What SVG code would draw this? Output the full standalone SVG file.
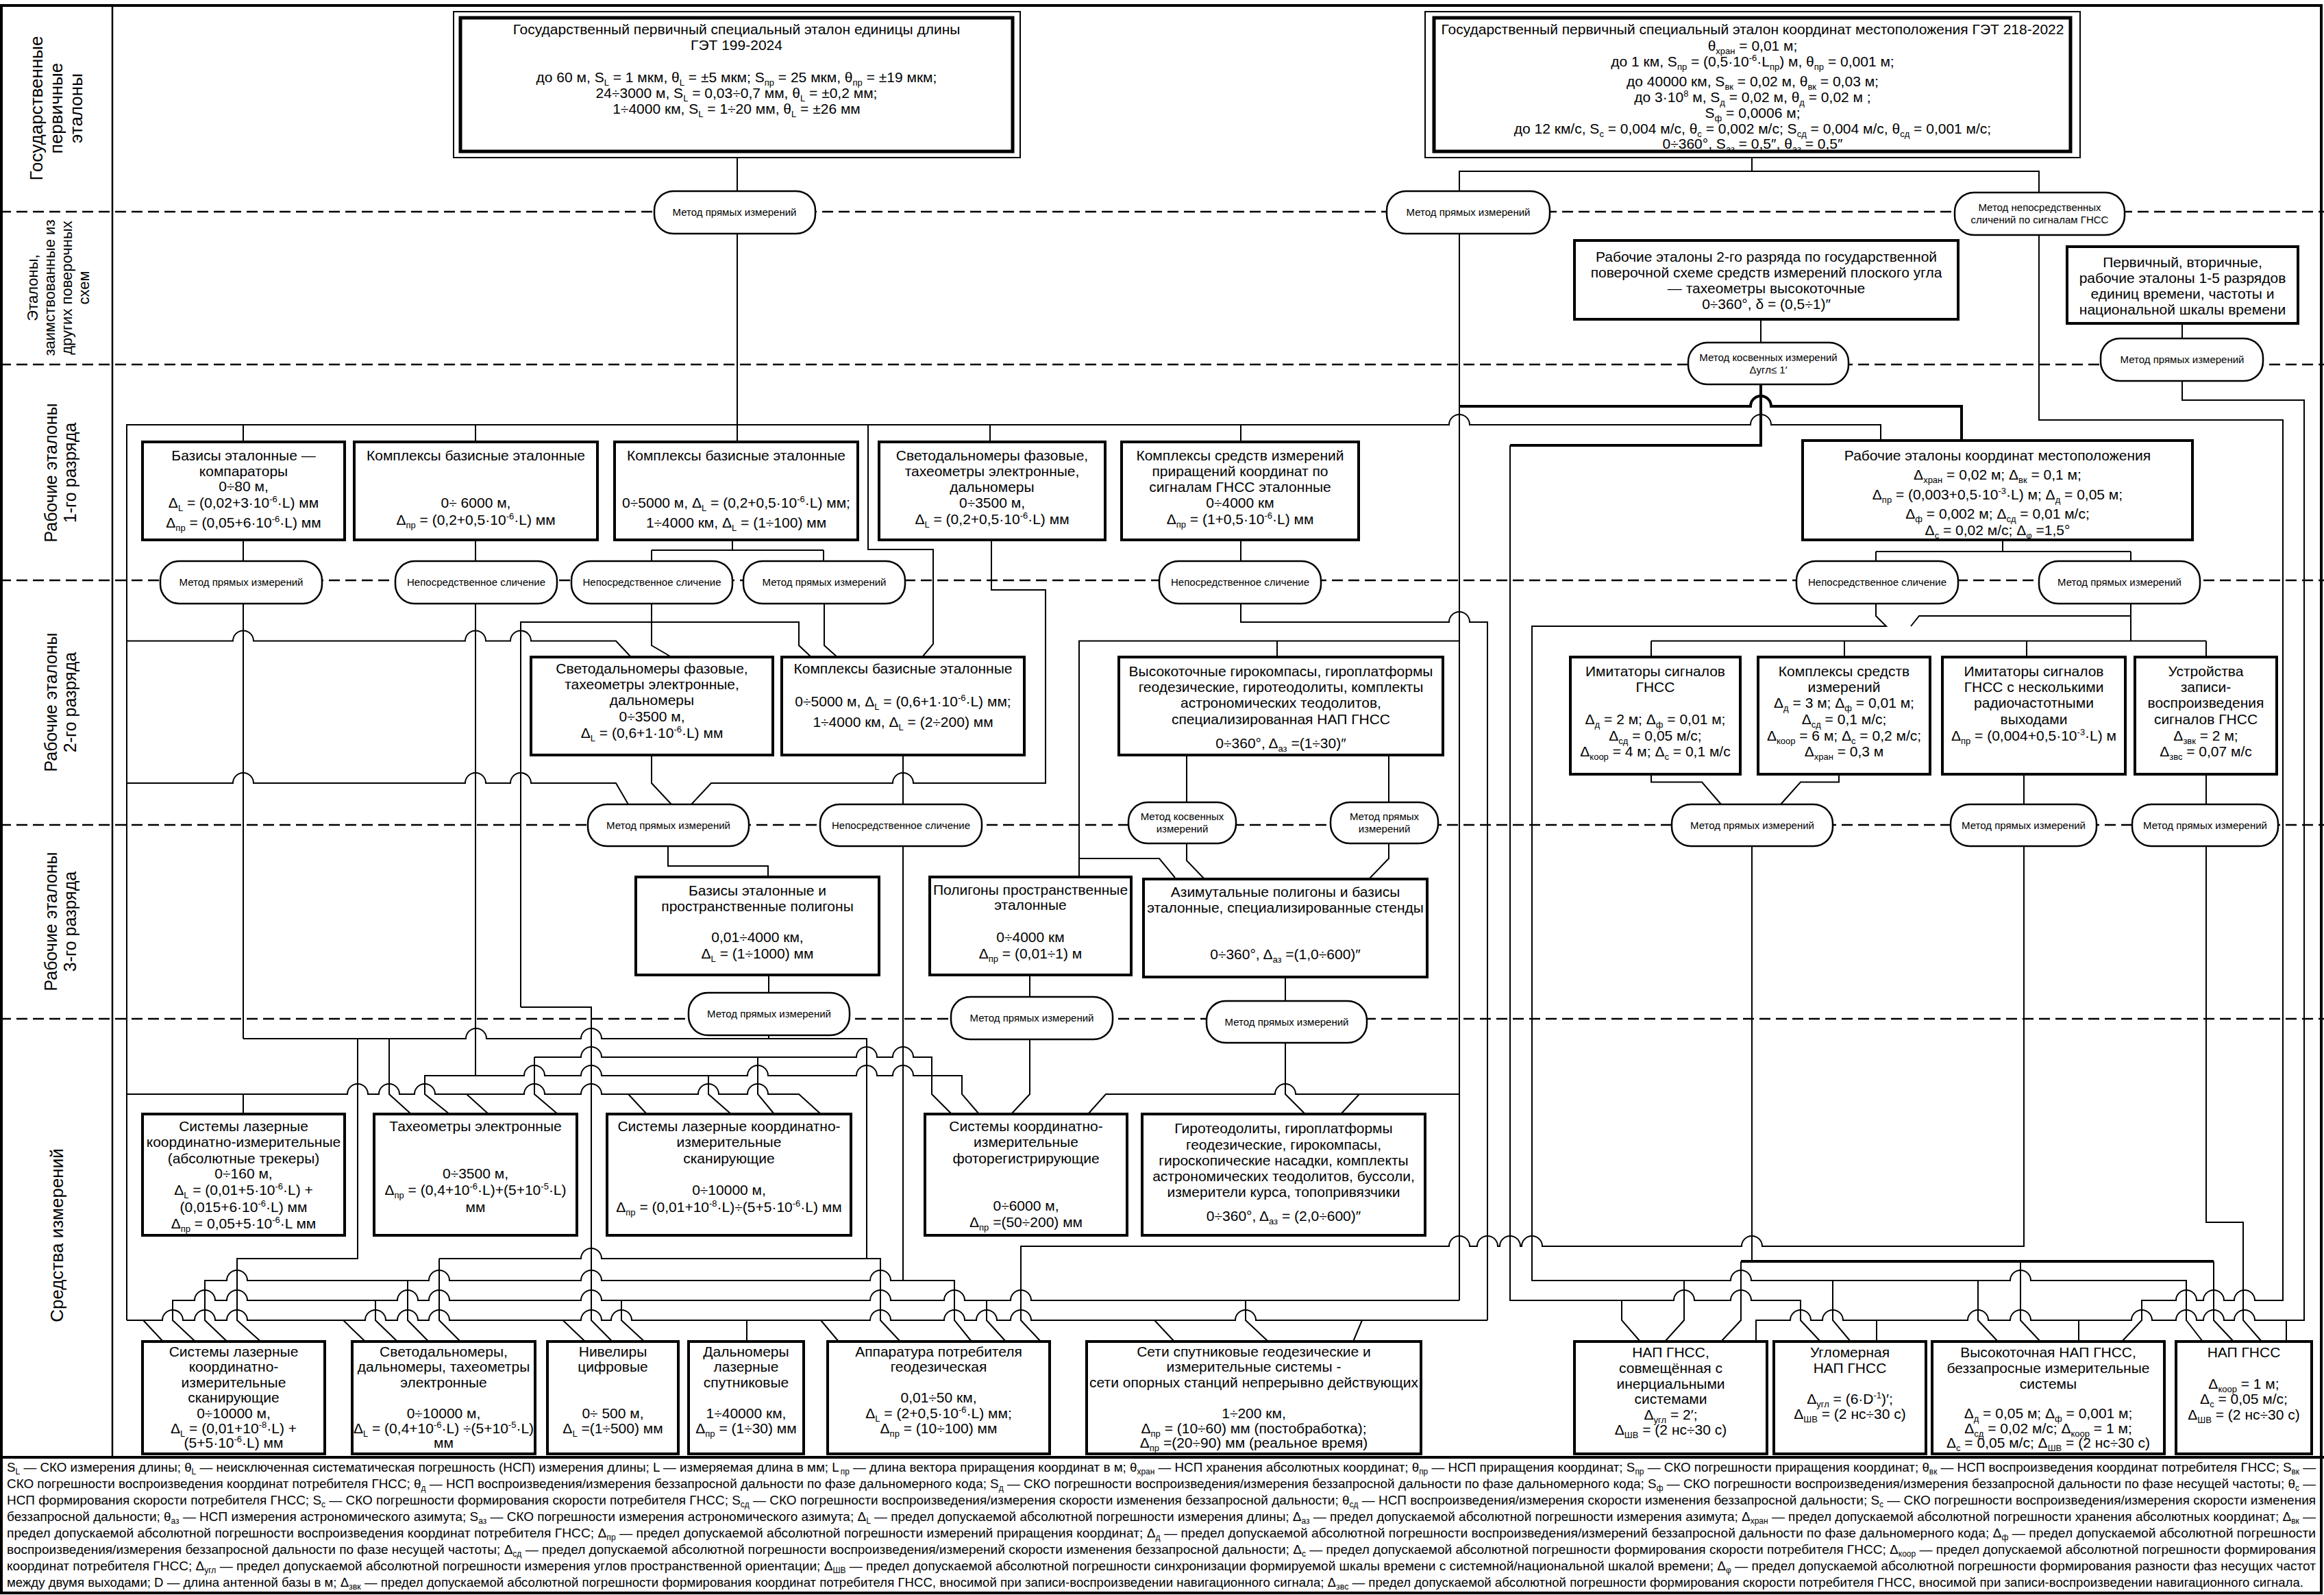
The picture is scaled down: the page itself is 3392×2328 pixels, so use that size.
<svg xmlns="http://www.w3.org/2000/svg" width="3392" height="2328" viewBox="0 0 3392 2328">
<style>
.bx{fill:#fff;stroke:#000;stroke-width:4}
.ov{fill:#fff;stroke:#000;stroke-width:2.5}
.c{fill:none;stroke:#000;stroke-width:2}
.ct{fill:none;stroke:#000;stroke-width:4}
.dash{fill:none;stroke:#000;stroke-width:2.5;stroke-dasharray:16 8}
text{font-family:"Liberation Sans",Arial,sans-serif;fill:#000}
.t{font-size:21px;text-anchor:middle}
.o{font-size:15px;text-anchor:middle}
.r{text-anchor:middle;dominant-baseline:central}
.f{font-size:19px}
.s{font-size:13px}
.fs{font-size:12px}
</style>
<rect width="3392" height="2328" fill="#fff"/>
<g id="frame">
<rect x="2" y="8" width="3386" height="2317" fill="none" stroke="#000" stroke-width="4"/>
<path d="M164,8V2127" stroke="#000" stroke-width="2.5"/>
<path d="M0,2127H3392" stroke="#000" stroke-width="4"/>
<path class="dash" d="M0,309H3392M0,532H3392M0,847H3392M0,1204H3392M0,1487H3392"/>
</g>
<g id="row-labels">
<text class="r" font-size="26" transform="translate(82,158) rotate(-90)"><tspan x="0" y="-29">Государственные</tspan><tspan x="0" y="0">первичные</tspan><tspan x="0" y="29">эталоны</tspan></text>
<text class="r" font-size="22" transform="translate(84,420) rotate(-90)"><tspan x="0" y="-37.5">Эталоны,</tspan><tspan x="0" y="-12.5">заимствованные из</tspan><tspan x="0" y="12.5">других поверочных</tspan><tspan x="0" y="37.5">схем</tspan></text>
<text class="r" font-size="25" transform="translate(88,690) rotate(-90)"><tspan x="0" y="-14">Рабочие эталоны</tspan><tspan x="0" y="14">1-го разряда</tspan></text>
<text class="r" font-size="25" transform="translate(88,1025) rotate(-90)"><tspan x="0" y="-14">Рабочие эталоны</tspan><tspan x="0" y="14">2-го  разряда</tspan></text>
<text class="r" font-size="25" transform="translate(88,1345) rotate(-90)"><tspan x="0" y="-14">Рабочие эталоны</tspan><tspan x="0" y="14">3-го  разряда</tspan></text>
<text class="r" font-size="26" transform="translate(83,1803) rotate(-90)">Средства измерений</text>
</g>
<g id="connectors">
<path class="c" d="M1076,230V279M1076,341V645"/>
<path class="c" d="M185,1927V620H2115a15,15 0 0 1 30,0H2555a15,15 0 0 1 30,0H2745V643"/>
<path class="c" d="M355,620V645M694,620V645M1445,620V645M1811,620V645"/>
<path class="c" d="M1267,620V802H1362V940L1346,959"/>
<path class="c" d="M2130,279V250H2976V281M2557,230V250"/>
<path class="c" d="M2130,341V1898"/>
<path class="ct" d="M2130,593H2555a15,15 0 0 1 30,0H2863V643"/>
<path class="c" d="M2570,466V500"/>
<path class="ct" d="M2570,561V650H2204"/>
<path class="c" d="M2204,650V1898H2443a15,15 0 0 1 30,0H2526a15,15 0 0 1 30,0H2628V1927L2657,1958M2367,1898V1927L2394,1958"/>
<path class="c" d="M3185,472V494"/>
<path class="c" d="M3185,556V584H3363V1927H3291a15,15 0 0 0 -30,0H3246a15,15 0 0 0 -30,0H3206a15,15 0 0 0 -30,0H3141a15,15 0 0 0 -30,0H2964a15,15 0 0 0 -30,0H2902a15,15 0 0 0 -30,0H2690a15,15 0 0 0 -30,0H2643a15,15 0 0 0 -30,0H2563V1958M2739,1927V1958M3034,1927V1958M3337,1927V1958"/>
<path class="c" d="M2976,343V613H3332V1898H3291a15,15 0 0 0 -30,0H3246a15,15 0 0 0 -30,0H3206a15,15 0 0 0 -30,0H3126V1927L3097,1958"/>
<path class="c" d="M2923,788V805M2738,805H3110M2738,805V819M3110,805V819"/>
<path class="c" d="M2738,881V899L2753,914H2236V1869H2526a15,15 0 0 1 30,0H2934a15,15 0 0 1 30,0H3191V1927L3215,1958M2458,1869V1927L2430,1958M2675,1869V1927L2701,1958M2887,1869V1927L2916,1958"/>
<path class="c" d="M3110,881V935.5M2410,935.5H3220M2410,935.5V959M2692,935.5V959M2958,935.5V959M3220,935.5V959M3110,899H2801L2789,914"/>
<path class="c" d="M2410,1130V1141.5H2484L2512,1174M2684,1130V1141.5H2628L2599,1174"/>
<path class="c" d="M2557,1235V1841M2512,1958L2541,1927V1841M3231,1841V1927L3260,1958M2949,1841V1927L2978,1958"/>
<path class="ct" d="M2541,1841H3231"/>
<path class="c" d="M2954,1130V1174M2954,1235V1819H2572a15,15 0 0 0 -30,0H2251a15,15 0 0 0 -30,0H2219a15,15 0 0 0 -30,0H2186a15,15 0 0 0 -30,0H2145a15,15 0 0 0 -30,0H1490V1927L1519,1958"/>
<path class="c" d="M3220,1130V1174M3220,1235V1784H3274V1927L3301,1958"/>
<path class="c" d="M355,788V819M355,881V1516M694,788V819M694,881V1570"/>
<path class="c" d="M1069,788V803M951,803H1202M951,803V819M1202,803V819"/>
<path class="c" d="M951,881V942L980,959M760,1470V908H1166V942L1184,959M1203,881V942L1222,959"/>
<path class="c" d="M185,935.5H340a15,15 0 0 1 30,0H679a15,15 0 0 1 30,0H745a15,15 0 0 1 30,0H899L921,959"/>
<path class="c" d="M185,1143H340a15,15 0 0 1 30,0H679a15,15 0 0 1 30,0H745a15,15 0 0 1 30,0H899L917,1174"/>
<path class="c" d="M951,1102V1143L980,1174"/>
<path class="c" d="M1447,788V861H1526V1143H1333a15,15 0 0 0 -30,0H1038L1009,1174"/>
<path class="c" d="M1318,1102V1174M1318,1235V1869"/>
<path class="c" d="M975,1235V1264H1121V1280"/>
<path class="c" d="M1811,788V819M1811,881V908H2115a15,15 0 0 1 30,0H2171V1927"/>
<path class="c" d="M2130,935.5H1575V1280M1864,935.5V959M1575,1253H1692L1715,1281"/>
<path class="c" d="M1732,1102V1171M1732,1231V1256L1758,1283M2027,1102V1171M2027,1231V1253L1998,1283"/>
<path class="c" d="M1122,1423V1449M1503,1423V1455M1876,1426V1461"/>
<path class="c" d="M1503,1517V1597L1476,1626M1876,1522V1597L1905,1626"/>
<path class="c" d="M1588,1626L1614,1597H1861a15,15 0 0 1 30,0H2130M1957,1626L1984,1597"/>
<path class="c" d="M355,1516H680a15,15 0 0 1 30,0H848a15,15 0 0 1 30,0H1265V1837M1122,1511V1516"/>
<path class="c" d="M522,1516V1837H346V1927L380.5,1958M568,1516V1597L600,1626"/>
<path class="c" d="M760,1470H863V1927L893.6,1958"/>
<path class="c" d="M780,1543H848a15,15 0 0 1 30,0H1250a15,15 0 0 1 30,0H1303a15,15 0 0 1 30,0H1360V1597L1389,1626M780,1543V1597L814,1626M1106,1543V1597L1130,1626"/>
<path class="c" d="M694,1570H620V1597L656,1626M694,1570H765a15,15 0 0 1 30,0H848a15,15 0 0 1 30,0H1091a15,15 0 0 1 30,0H1250a15,15 0 0 1 30,0H1303a15,15 0 0 1 30,0H1404V1597L1429,1626M1034,1570V1597L1067,1626"/>
<path class="c" d="M185,1597H507a15,15 0 0 1 30,0H553a15,15 0 0 1 30,0H605a15,15 0 0 1 30,0H765a15,15 0 0 1 30,0H848a15,15 0 0 1 30,0H1019a15,15 0 0 1 30,0H1091a15,15 0 0 1 30,0H1166L1198,1626M355,1597V1626M681,1597L713,1626M917,1597L944,1626"/>
<path class="c" d="M641,1837H848a15,15 0 0 1 30,0H1285V1927L1314,1958M641,1837V1927L672,1958"/>
<path class="c" d="M331.5,1958L299,1927V1869H331a15,15 0 0 1 30,0H626a15,15 0 0 1 30,0H848a15,15 0 0 1 30,0H1270a15,15 0 0 1 30,0H1393V1927L1418,1958M595,1869V1927L625.5,1958"/>
<path class="c" d="M285,1958L252,1927V1898H284a15,15 0 0 1 30,0H331a15,15 0 0 1 30,0H580a15,15 0 0 1 30,0H626a15,15 0 0 1 30,0H848a15,15 0 0 1 30,0H1270a15,15 0 0 1 30,0H1378a15,15 0 0 1 30,0H1475a15,15 0 0 1 30,0H2130M548,1898V1927L580,1958M907,1898V1927L940.5,1958M1440,1898V1927L1468,1958M1818,1898V1927L1851,1958"/>
<path class="c" d="M185,1927H237a15,15 0 0 1 30,0H284a15,15 0 0 1 30,0H331a15,15 0 0 1 30,0H533a15,15 0 0 1 30,0H580a15,15 0 0 1 30,0H626a15,15 0 0 1 30,0H848a15,15 0 0 1 30,0H892a15,15 0 0 1 30,0H1270a15,15 0 0 1 30,0H1378a15,15 0 0 1 30,0H1425a15,15 0 0 1 30,0H1475a15,15 0 0 1 30,0H1803a15,15 0 0 1 30,0H2171"/>
<path class="c" d="M209,1927L238,1958M501,1927L533,1958M821.5,1927L854,1958M1090,1927V1958M1198,1927L1224,1958M1685,1927L1714,1958M1988,1927L1975,1958"/>
</g>
<g id="n-get199">
<rect x="662" y="17" width="827" height="213" fill="#fff" stroke="#000" stroke-width="2"/>
<rect x="672" y="26" width="806" height="195" fill="none" stroke="#000" stroke-width="5"/>
<text class="t" x="1075" y="50">Государственный первичный специальный эталон единицы длины</text>
<text class="t" x="1075" y="73">ГЭТ 199-2024</text>
<text class="t" x="1075" y="120">до 60 м, S<tspan class="s" dy="5">L</tspan><tspan dy="-5"> = 1 мкм, θ</tspan><tspan class="s" dy="5">L</tspan><tspan dy="-5"> = ±5 мкм; S</tspan><tspan class="s" dy="5">пр</tspan><tspan dy="-5"> = 25 мкм, θ</tspan><tspan class="s" dy="5">пр</tspan><tspan dy="-5"> = ±19 мкм;</tspan></text>
<text class="t" x="1075" y="143">24÷3000 м, S<tspan class="s" dy="5">L</tspan><tspan dy="-5"> =  0,03÷0,7 мм, θ</tspan><tspan class="s" dy="5">L</tspan><tspan dy="-5"> = ±0,2 мм;</tspan></text>
<text class="t" x="1075" y="166">1÷4000 км, S<tspan class="s" dy="5">L</tspan><tspan dy="-5"> = 1÷20 мм, θ</tspan><tspan class="s" dy="5">L</tspan><tspan dy="-5"> = ±26 мм</tspan></text>
</g>
<g id="n-get218">
<rect x="2080" y="17" width="956" height="213" fill="#fff" stroke="#000" stroke-width="2"/>
<rect x="2093" y="26" width="929" height="195" fill="none" stroke="#000" stroke-width="5"/>
<text class="t" x="2558" y="50">Государственный первичный специальный эталон координат местоположения ГЭТ 218-2022</text>
<text class="t" x="2558" y="74">θ<tspan class="s" dy="5">хран</tspan><tspan dy="-5"> = 0,01 м;</tspan></text>
<text class="t" x="2558" y="97">до 1 км, S<tspan class="s" dy="5">пр</tspan><tspan dy="-5"> = (0,5·10</tspan><tspan class="s" dy="-8">-6</tspan><tspan dy="8">·L</tspan><tspan class="s" dy="5">пр</tspan><tspan dy="-5">) м, θ</tspan><tspan class="s" dy="5">пр</tspan><tspan dy="-5"> = 0,001 м;</tspan></text>
<text class="t" x="2558" y="126">до 40000 км, S<tspan class="s" dy="5">вк</tspan><tspan dy="-5"> = 0,02 м, θ</tspan><tspan class="s" dy="5">вк</tspan><tspan dy="-5"> = 0,03 м;</tspan></text>
<text class="t" x="2558" y="149">до 3·10<tspan class="s" dy="-8">8</tspan><tspan dy="8"> м, S</tspan><tspan class="s" dy="5">д</tspan><tspan dy="-5"> = 0,02 м, θ</tspan><tspan class="s" dy="5">д</tspan><tspan dy="-5"> = 0,02 м ;</tspan></text>
<text class="t" x="2558" y="172">S<tspan class="s" dy="5">ф</tspan><tspan dy="-5"> = 0,0006 м;</tspan></text>
<text class="t" x="2558" y="195">до 12 км/с, S<tspan class="s" dy="5">с</tspan><tspan dy="-5"> = 0,004 м/с, θ</tspan><tspan class="s" dy="5">с</tspan><tspan dy="-5"> = 0,002 м/с; S</tspan><tspan class="s" dy="5">сд</tspan><tspan dy="-5"> = 0,004 м/с, θ</tspan><tspan class="s" dy="5">сд</tspan><tspan dy="-5"> = 0,001 м/с;</tspan></text>
<text class="t" x="2558" y="217">0÷360°, S<tspan class="s" dy="5">аз</tspan><tspan dy="-5"> = 0,5″, θ</tspan><tspan class="s" dy="5">аз</tspan><tspan dy="-5"> = 0,5″</tspan></text>
</g>
<g id="n-o1"><rect class="ov" x="955" y="279" width="235" height="62" rx="28"/><text class="o" x="1072" y="315">Метод прямых измерений</text></g>
<g id="n-o2"><rect class="ov" x="2024" y="279" width="238" height="62" rx="28"/><text class="o" x="2143" y="315">Метод прямых измерений</text></g>
<g id="n-o3"><rect class="ov" x="2853" y="281" width="248" height="62" rx="28"/><text class="o" x="2977" y="308">Метод непосредственных</text><text class="o" x="2977" y="326">сличений по сигналам ГНСС</text></g>
<g id="n-b1"><rect class="bx" x="2298" y="351" width="560" height="115"/>
<text class="t" x="2578" y="382">Рабочие эталоны 2-го разряда по государственной</text>
<text class="t" x="2578" y="405">поверочной схеме средств измерений плоского угла</text>
<text class="t" x="2578" y="428">— тахеометры высокоточные</text>
<text class="t" x="2578" y="451">0÷360°, δ = (0,5÷1)″</text></g>
<g id="n-b2"><rect class="bx" x="3017" y="360" width="337" height="112"/>
<text class="t" x="3185.5" y="390">Первичный, вторичные,</text>
<text class="t" x="3185.5" y="413">рабочие эталоны 1-5 разрядов</text>
<text class="t" x="3185.5" y="436">единиц времени, частоты и</text>
<text class="t" x="3185.5" y="459">национальной шкалы времени</text></g>
<g id="n-o4"><rect class="ov" x="2464" y="500" width="234" height="61" rx="28"/><text class="o" x="2581" y="527">Метод косвенных измерений</text><text class="o" x="2581" y="545">Δугл≤ 1′</text></g>
<g id="n-o5"><rect class="ov" x="3066" y="494" width="237" height="62" rx="28"/><text class="o" x="3185" y="530">Метод прямых измерений</text></g>
<g id="n-r1a"><rect class="bx" x="208" y="645" width="295" height="143"/>
<text class="t" x="355.5" y="672">Базисы эталонные —</text>
<text class="t" x="355.5" y="695">компараторы</text>
<text class="t" x="355.5" y="717">0÷80 м,</text>
<text class="t" x="355.5" y="741">Δ<tspan class="s" dy="5">L</tspan><tspan dy="-5"> = (0,02+3·10</tspan><tspan class="s" dy="-8">-6</tspan><tspan dy="8">·L) мм</tspan></text>
<text class="t" x="355.5" y="770">Δ<tspan class="s" dy="5">пр</tspan><tspan dy="-5"> = (0,05+6·10</tspan><tspan class="s" dy="-8">-6</tspan><tspan dy="8">·L) мм</tspan></text></g>
<g id="n-r1b"><rect class="bx" x="517" y="645" width="355" height="143"/>
<text class="t" x="694.5" y="672">Комплексы базисные эталонные</text>
<text class="t" x="694.5" y="741">0÷ 6000 м,</text>
<text class="t" x="694.5" y="766">Δ<tspan class="s" dy="5">пр</tspan><tspan dy="-5"> = (0,2+0,5·10</tspan><tspan class="s" dy="-8">-6</tspan><tspan dy="8">·L) мм</tspan></text></g>
<g id="n-r1c"><rect class="bx" x="897" y="645" width="355" height="143"/>
<text class="t" x="1074.5" y="672">Комплексы базисные эталонные</text>
<text class="t" x="1074.5" y="741">0÷5000 м, Δ<tspan class="s" dy="5">L</tspan><tspan dy="-5"> = (0,2+0,5·10</tspan><tspan class="s" dy="-8">-6</tspan><tspan dy="8">·L) мм;</tspan></text>
<text class="t" x="1074.5" y="770">1÷4000 км, Δ<tspan class="s" dy="5">L</tspan><tspan dy="-5"> = (1÷100) мм</tspan></text></g>
<g id="n-r1d"><rect class="bx" x="1283" y="645" width="330" height="143"/>
<text class="t" x="1448" y="672">Светодальномеры фазовые,</text>
<text class="t" x="1448" y="695">тахеометры электронные,</text>
<text class="t" x="1448" y="718">дальномеры</text>
<text class="t" x="1448" y="741">0÷3500 м,</text>
<text class="t" x="1448" y="765">Δ<tspan class="s" dy="5">L</tspan><tspan dy="-5"> = (0,2+0,5·10</tspan><tspan class="s" dy="-8">-6</tspan><tspan dy="8">·L) мм</tspan></text></g>
<g id="n-r1e"><rect class="bx" x="1637" y="645" width="346" height="143"/>
<text class="t" x="1810" y="672">Комплексы средств измерений</text>
<text class="t" x="1810" y="695">приращений координат по</text>
<text class="t" x="1810" y="718">сигналам ГНСС эталонные</text>
<text class="t" x="1810" y="741">0÷4000 км</text>
<text class="t" x="1810" y="765">Δ<tspan class="s" dy="5">пр</tspan><tspan dy="-5"> = (1+0,5·10</tspan><tspan class="s" dy="-8">-6</tspan><tspan dy="8">·L) мм</tspan></text></g>
<g id="n-r1f"><rect class="bx" x="2631" y="643" width="569" height="145"/>
<text class="t" x="2915.5" y="672">Рабочие эталоны координат местоположения</text>
<text class="t" x="2915.5" y="700">Δ<tspan class="s" dy="5">хран</tspan><tspan dy="-5"> = 0,02 м; Δ</tspan><tspan class="s" dy="5">вк</tspan><tspan dy="-5"> = 0,1 м;</tspan></text>
<text class="t" x="2915.5" y="729">Δ<tspan class="s" dy="5">пр</tspan><tspan dy="-5"> = (0,003+0,5·10</tspan><tspan class="s" dy="-8">-3</tspan><tspan dy="8">·L) м; Δ</tspan><tspan class="s" dy="5">д</tspan><tspan dy="-5"> = 0,05 м;</tspan></text>
<text class="t" x="2915.5" y="757">Δ<tspan class="s" dy="5">ф</tspan><tspan dy="-5"> = 0,002 м; Δ</tspan><tspan class="s" dy="5">сд</tspan><tspan dy="-5"> = 0,01 м/с;</tspan></text>
<text class="t" x="2915.5" y="781">Δ<tspan class="s" dy="5">с</tspan><tspan dy="-5"> = 0,02 м/с; Δ</tspan><tspan class="s" dy="5">φ</tspan><tspan dy="-5"> =1,5°</tspan></text></g>
<g id="n-o6"><rect class="ov" x="234" y="819" width="236" height="62" rx="28"/><text class="o" x="352" y="855">Метод прямых измерений</text></g>
<g id="n-o7"><rect class="ov" x="577" y="819" width="236" height="62" rx="28"/><text class="o" x="695" y="855">Непосредственное сличение</text></g>
<g id="n-o8"><rect class="ov" x="834" y="819" width="235" height="62" rx="28"/><text class="o" x="951.5" y="855">Непосредственное сличение</text></g>
<g id="n-o9"><rect class="ov" x="1085" y="819" width="236" height="62" rx="28"/><text class="o" x="1203" y="855">Метод прямых измерений</text></g>
<g id="n-o10"><rect class="ov" x="1692" y="819" width="236" height="62" rx="28"/><text class="o" x="1810" y="855">Непосредственное сличение</text></g>
<g id="n-o11"><rect class="ov" x="2622" y="819" width="236" height="62" rx="28"/><text class="o" x="2740" y="855">Непосредственное сличение</text></g>
<g id="n-o12"><rect class="ov" x="2976" y="819" width="235" height="62" rx="28"/><text class="o" x="3093.5" y="855">Метод прямых измерений</text></g>
<g id="n-r2a"><rect class="bx" x="775" y="959" width="353" height="143"/>
<text class="t" x="951.5" y="983">Светодальномеры фазовые,</text>
<text class="t" x="951.5" y="1006">тахеометры электронные,</text>
<text class="t" x="951.5" y="1029">дальномеры</text>
<text class="t" x="951.5" y="1053">0÷3500 м,</text>
<text class="t" x="951.5" y="1077">Δ<tspan class="s" dy="5">L</tspan><tspan dy="-5"> = (0,6+1·10</tspan><tspan class="s" dy="-8">-6</tspan><tspan dy="8">·L) мм</tspan></text></g>
<g id="n-r2b"><rect class="bx" x="1141" y="959" width="354" height="143"/>
<text class="t" x="1318" y="983">Комплексы базисные эталонные</text>
<text class="t" x="1318" y="1031">0÷5000 м, Δ<tspan class="s" dy="5">L</tspan><tspan dy="-5"> = (0,6+1·10</tspan><tspan class="s" dy="-8">-6</tspan><tspan dy="8">·L) мм;</tspan></text>
<text class="t" x="1318" y="1061">1÷4000 км, Δ<tspan class="s" dy="5">L</tspan><tspan dy="-5"> = (2÷200) мм</tspan></text></g>
<g id="n-r2c"><rect class="bx" x="1633" y="959" width="473" height="143"/>
<text class="t" x="1869.5" y="987">Высокоточные гирокомпасы, гироплатформы</text>
<text class="t" x="1869.5" y="1010">геодезические, гиротеодолиты, комплекты</text>
<text class="t" x="1869.5" y="1033">астрономических теодолитов,</text>
<text class="t" x="1869.5" y="1057">специализированная НАП ГНСС</text>
<text class="t" x="1869.5" y="1092">0÷360°, Δ<tspan class="s" dy="5">аз</tspan><tspan dy="-5"> =(1÷30)″</tspan></text></g>
<g id="n-r2d"><rect class="bx" x="2292" y="959" width="248" height="171"/>
<text class="t" x="2416" y="987">Имитаторы сигналов</text>
<text class="t" x="2416" y="1010">ГНСС</text>
<text class="t" x="2416" y="1057">Δ<tspan class="s" dy="5">д</tspan><tspan dy="-5"> = 2 м; Δ</tspan><tspan class="s" dy="5">ф</tspan><tspan dy="-5"> = 0,01 м;</tspan></text>
<text class="t" x="2416" y="1081">Δ<tspan class="s" dy="5">сд</tspan><tspan dy="-5"> = 0,05 м/с;</tspan></text>
<text class="t" x="2416" y="1104">Δ<tspan class="s" dy="5">коор</tspan><tspan dy="-5"> = 4 м; Δ</tspan><tspan class="s" dy="5">с</tspan><tspan dy="-5"> = 0,1 м/с</tspan></text></g>
<g id="n-r2e"><rect class="bx" x="2566" y="959" width="251" height="171"/>
<text class="t" x="2691.5" y="987">Комплексы средств</text>
<text class="t" x="2691.5" y="1010">измерений</text>
<text class="t" x="2691.5" y="1033">Δ<tspan class="s" dy="5">д</tspan><tspan dy="-5"> = 3 м; Δ</tspan><tspan class="s" dy="5">ф</tspan><tspan dy="-5"> = 0,01 м;</tspan></text>
<text class="t" x="2691.5" y="1057">Δ<tspan class="s" dy="5">сд</tspan><tspan dy="-5"> = 0,1 м/с;</tspan></text>
<text class="t" x="2691.5" y="1081">Δ<tspan class="s" dy="5">коор</tspan><tspan dy="-5"> = 6 м; Δ</tspan><tspan class="s" dy="5">с</tspan><tspan dy="-5"> = 0,2 м/с;</tspan></text>
<text class="t" x="2691.5" y="1104">Δ<tspan class="s" dy="5">хран</tspan><tspan dy="-5"> = 0,3 м</tspan></text></g>
<g id="n-r2f"><rect class="bx" x="2835" y="959" width="267" height="171"/>
<text class="t" x="2968.5" y="987">Имитаторы сигналов</text>
<text class="t" x="2968.5" y="1010">ГНСС с несколькими</text>
<text class="t" x="2968.5" y="1033">радиочастотными</text>
<text class="t" x="2968.5" y="1057">выходами</text>
<text class="t" x="2968.5" y="1081">Δ<tspan class="s" dy="5">пр</tspan><tspan dy="-5"> = (0,004+0,5·10</tspan><tspan class="s" dy="-8">-3</tspan><tspan dy="8">·L) м</tspan></text></g>
<g id="n-r2g"><rect class="bx" x="3116" y="959" width="207" height="171"/>
<text class="t" x="3219.5" y="987">Устройства</text>
<text class="t" x="3219.5" y="1010">записи-</text>
<text class="t" x="3219.5" y="1033">воспроизведения</text>
<text class="t" x="3219.5" y="1057">сигналов ГНСС</text>
<text class="t" x="3219.5" y="1081">Δ<tspan class="s" dy="5">звк</tspan><tspan dy="-5"> = 2 м;</tspan></text>
<text class="t" x="3219.5" y="1104">Δ<tspan class="s" dy="5">звс</tspan><tspan dy="-5"> = 0,07 м/с</tspan></text></g>
<g id="n-o13"><rect class="ov" x="858" y="1174" width="235" height="61" rx="28"/><text class="o" x="975.5" y="1210">Метод прямых измерений</text></g>
<g id="n-o14"><rect class="ov" x="1197" y="1174" width="236" height="61" rx="28"/><text class="o" x="1315" y="1210">Непосредственное сличение</text></g>
<g id="n-o15"><rect class="ov" x="1647" y="1171" width="157" height="60" rx="28"/><text class="o" x="1725.5" y="1197">Метод косвенных</text><text class="o" x="1725.5" y="1215">измерений</text></g>
<g id="n-o16"><rect class="ov" x="1942" y="1171" width="157" height="60" rx="28"/><text class="o" x="2020.5" y="1197">Метод прямых</text><text class="o" x="2020.5" y="1215">измерений</text></g>
<g id="n-o17"><rect class="ov" x="2440" y="1174" width="235" height="61" rx="28"/><text class="o" x="2557.5" y="1210">Метод прямых измерений</text></g>
<g id="n-o18"><rect class="ov" x="2847" y="1174" width="213" height="61" rx="28"/><text class="o" x="2953.5" y="1210">Метод прямых измерений</text></g>
<g id="n-o19"><rect class="ov" x="3112" y="1174" width="213" height="61" rx="28"/><text class="o" x="3218.5" y="1210">Метод прямых измерений</text></g>
<g id="n-r3a"><rect class="bx" x="928" y="1280" width="355" height="143"/>
<text class="t" x="1105.5" y="1307">Базисы эталонные и</text>
<text class="t" x="1105.5" y="1330">пространственные полигоны</text>
<text class="t" x="1105.5" y="1375">0,01÷4000 км,</text>
<text class="t" x="1105.5" y="1399">Δ<tspan class="s" dy="5">L</tspan><tspan dy="-5"> = (1÷1000) мм</tspan></text></g>
<g id="n-r3b"><rect class="bx" x="1357" y="1280" width="294" height="143"/>
<text class="t" x="1504" y="1306">Полигоны пространственные</text>
<text class="t" x="1504" y="1328">эталонные</text>
<text class="t" x="1504" y="1375">0÷4000 км</text>
<text class="t" x="1504" y="1399">Δ<tspan class="s" dy="5">пр</tspan><tspan dy="-5"> = (0,01÷1) м</tspan></text></g>
<g id="n-r3c"><rect class="bx" x="1669" y="1283" width="414" height="143"/>
<text class="t" x="1876" y="1309">Азимутальные полигоны и базисы</text>
<text class="t" x="1876" y="1332">эталонные, специализированные стенды</text>
<text class="t" x="1876" y="1400">0÷360°, Δ<tspan class="s" dy="5">аз</tspan><tspan dy="-5">  =(1,0÷600)″</tspan></text></g>
<g id="n-o20"><rect class="ov" x="1005" y="1449" width="235" height="62" rx="28"/><text class="o" x="1122.5" y="1485">Метод прямых измерений</text></g>
<g id="n-o21"><rect class="ov" x="1388" y="1455" width="236" height="62" rx="28"/><text class="o" x="1506" y="1491">Метод прямых измерений</text></g>
<g id="n-o22"><rect class="ov" x="1761" y="1461" width="234" height="61" rx="28"/><text class="o" x="1878" y="1497">Метод прямых измерений</text></g>
<g id="n-s1"><rect class="bx" x="208" y="1626" width="295" height="177"/>
<text class="t" x="355.5" y="1651">Системы лазерные</text>
<text class="t" x="355.5" y="1674">координатно-измерительные</text>
<text class="t" x="355.5" y="1698">(абсолютные трекеры)</text>
<text class="t" x="355.5" y="1720">0÷160 м,</text>
<text class="t" x="355.5" y="1744">Δ<tspan class="s" dy="5">L</tspan><tspan dy="-5"> = (0,01+5·10</tspan><tspan class="s" dy="-8">-6</tspan><tspan dy="8">·L) +</tspan></text>
<text class="t" x="355.5" y="1769">(0,015+6·10<tspan class="s" dy="-8">-6</tspan><tspan dy="8">·L) мм</tspan></text>
<text class="t" x="355.5" y="1793">Δ<tspan class="s" dy="5">пр</tspan><tspan dy="-5"> = 0,05+5·10</tspan><tspan class="s" dy="-8">-6</tspan><tspan dy="8">·L мм</tspan></text></g>
<g id="n-s2"><rect class="bx" x="546" y="1626" width="296" height="177"/>
<text class="t" x="694" y="1651">Тахеометры электронные</text>
<text class="t" x="694" y="1720">0÷3500 м,</text>
<text class="t" x="694" y="1744">Δ<tspan class="s" dy="5">пр</tspan><tspan dy="-5"> = (0,4+10</tspan><tspan class="s" dy="-8">-6</tspan><tspan dy="8">·L)+(5+10</tspan><tspan class="s" dy="-8">-5</tspan><tspan dy="8">·L)</tspan></text>
<text class="t" x="694" y="1769">мм</text></g>
<g id="n-s3"><rect class="bx" x="886" y="1626" width="356" height="177"/>
<text class="t" x="1064" y="1651">Системы лазерные координатно-</text>
<text class="t" x="1064" y="1674">измерительные</text>
<text class="t" x="1064" y="1698">сканирующие</text>
<text class="t" x="1064" y="1744">0÷10000 м,</text>
<text class="t" x="1064" y="1769">Δ<tspan class="s" dy="5">пр</tspan><tspan dy="-5"> =  (0,01+10</tspan><tspan class="s" dy="-8">-8</tspan><tspan dy="8">·L)÷(5+5·10</tspan><tspan class="s" dy="-8">-6</tspan><tspan dy="8">·L)  мм</tspan></text></g>
<g id="n-s4"><rect class="bx" x="1350" y="1626" width="295" height="177"/>
<text class="t" x="1497.5" y="1651">Системы координатно-</text>
<text class="t" x="1497.5" y="1674">измерительные</text>
<text class="t" x="1497.5" y="1698">фоторегистрирующие</text>
<text class="t" x="1497.5" y="1767">0÷6000 м,</text>
<text class="t" x="1497.5" y="1791">Δ<tspan class="s" dy="5">пр</tspan><tspan dy="-5"> =(50÷200) мм</tspan></text></g>
<g id="n-s5"><rect class="bx" x="1667" y="1626" width="413" height="177"/>
<text class="t" x="1873.5" y="1654">Гиротеодолиты, гироплатформы</text>
<text class="t" x="1873.5" y="1678">геодезические, гирокомпасы,</text>
<text class="t" x="1873.5" y="1701">гироскопические насадки, комплекты</text>
<text class="t" x="1873.5" y="1724">астрономических теодолитов, буссоли,</text>
<text class="t" x="1873.5" y="1747">измерители курса, топопривязчики</text>
<text class="t" x="1873.5" y="1782">0÷360°, Δ<tspan class="s" dy="5">аз</tspan><tspan dy="-5"> = (2,0÷600)″</tspan></text></g>
<g id="n-t1"><rect class="bx" x="208" y="1958" width="266" height="164"/>
<text class="t" x="341" y="1980">Системы лазерные</text>
<text class="t" x="341" y="2002">координатно-</text>
<text class="t" x="341" y="2025">измерительные</text>
<text class="t" x="341" y="2047">сканирующие</text>
<text class="t" x="341" y="2070">0÷10000 м,</text>
<text class="t" x="341" y="2092">Δ<tspan class="s" dy="5">L</tspan><tspan dy="-5"> = (0,01+10</tspan><tspan class="s" dy="-8">-8</tspan><tspan dy="8">·L) +</tspan></text>
<text class="t" x="341" y="2113">(5+5·10<tspan class="s" dy="-8">-6</tspan><tspan dy="8">·L) мм</tspan></text></g>
<g id="n-t2"><rect class="bx" x="514" y="1958" width="267" height="164"/>
<text class="t" x="647.5" y="1980">Светодальномеры,</text>
<text class="t" x="647.5" y="2002">дальномеры, тахеометры</text>
<text class="t" x="647.5" y="2025">электронные</text>
<text class="t" x="647.5" y="2070">0÷10000 м,</text>
<text class="t" x="647.5" y="2092">Δ<tspan class="s" dy="5">L</tspan><tspan dy="-5"> = (0,4+10</tspan><tspan class="s" dy="-8">-6</tspan><tspan dy="8">·L) ÷(5+10</tspan><tspan class="s" dy="-8">-5</tspan><tspan dy="8">·L)</tspan></text>
<text class="t" x="647.5" y="2113">мм</text></g>
<g id="n-t3"><rect class="bx" x="799" y="1958" width="191" height="164"/>
<text class="t" x="894.5" y="1980">Нивелиры</text>
<text class="t" x="894.5" y="2002">цифровые</text>
<text class="t" x="894.5" y="2070">0÷ 500 м,</text>
<text class="t" x="894.5" y="2092">Δ<tspan class="s" dy="5">L</tspan><tspan dy="-5"> =(1÷500) мм</tspan></text></g>
<g id="n-t4"><rect class="bx" x="1005" y="1958" width="168" height="164"/>
<text class="t" x="1089" y="1980">Дальномеры</text>
<text class="t" x="1089" y="2002">лазерные</text>
<text class="t" x="1089" y="2025">спутниковые</text>
<text class="t" x="1089" y="2070">1÷40000 км,</text>
<text class="t" x="1089" y="2092">Δ<tspan class="s" dy="5">пр</tspan><tspan dy="-5"> = (1÷30) мм</tspan></text></g>
<g id="n-t5"><rect class="bx" x="1208" y="1958" width="324" height="164"/>
<text class="t" x="1370" y="1980">Аппаратура потребителя</text>
<text class="t" x="1370" y="2002">геодезическая</text>
<text class="t" x="1370" y="2047">0,01÷50 км,</text>
<text class="t" x="1370" y="2070">Δ<tspan class="s" dy="5">L</tspan><tspan dy="-5"> = (2+0,5·10</tspan><tspan class="s" dy="-8">-6</tspan><tspan dy="8">·L) мм;</tspan></text>
<text class="t" x="1370" y="2092">Δ<tspan class="s" dy="5">пр</tspan><tspan dy="-5"> = (10÷100) мм</tspan></text></g>
<g id="n-t6"><rect class="bx" x="1586" y="1958" width="488" height="164"/>
<text class="t" x="1830" y="1980">Сети спутниковые геодезические  и</text>
<text class="t" x="1830" y="2002">измерительные системы -</text>
<text class="t" x="1830" y="2025">сети опорных станций непрерывно действующих</text>
<text class="t" x="1830" y="2070">1÷200 км,</text>
<text class="t" x="1830" y="2092">Δ<tspan class="s" dy="5">пр</tspan><tspan dy="-5"> = (10÷60) мм (постобработка);</tspan></text>
<text class="t" x="1830" y="2113">Δ<tspan class="s" dy="5">пр</tspan><tspan dy="-5"> =(20÷90) мм  (реальное время)</tspan></text></g>
<g id="n-t7"><rect class="bx" x="2298" y="1958" width="281" height="164"/>
<text class="t" x="2438.5" y="1981">НАП ГНСС,</text>
<text class="t" x="2438.5" y="2004">совмещённая с</text>
<text class="t" x="2438.5" y="2027">инерциальными</text>
<text class="t" x="2438.5" y="2049">системами</text>
<text class="t" x="2438.5" y="2072">Δ<tspan class="s" dy="5">угл</tspan><tspan dy="-5"> = 2′;</tspan></text>
<text class="t" x="2438.5" y="2094">Δ<tspan class="s" dy="5">ШВ</tspan><tspan dy="-5"> = (2 нс÷30 с)</tspan></text></g>
<g id="n-t8"><rect class="bx" x="2589" y="1958" width="222" height="164"/>
<text class="t" x="2700" y="1981">Угломерная</text>
<text class="t" x="2700" y="2004">НАП ГНСС</text>
<text class="t" x="2700" y="2049">Δ<tspan class="s" dy="5">угл</tspan><tspan dy="-5"> = (6·D</tspan><tspan class="s" dy="-8">-1</tspan><tspan dy="8">)′;</tspan></text>
<text class="t" x="2700" y="2071">Δ<tspan class="s" dy="5">ШВ</tspan><tspan dy="-5"> = (2 нс÷30 с)</tspan></text></g>
<g id="n-t9"><rect class="bx" x="2820" y="1958" width="339" height="164"/>
<text class="t" x="2989.5" y="1981">Высокоточная НАП ГНСС,</text>
<text class="t" x="2989.5" y="2004">беззапросные измерительные</text>
<text class="t" x="2989.5" y="2027">системы</text>
<text class="t" x="2989.5" y="2070">Δ<tspan class="s" dy="5">д</tspan><tspan dy="-5"> = 0,05 м; Δ</tspan><tspan class="s" dy="5">ф</tspan><tspan dy="-5"> = 0,001 м;</tspan></text>
<text class="t" x="2989.5" y="2092">Δ<tspan class="s" dy="5">сд</tspan><tspan dy="-5"> = 0,02 м/с; Δ</tspan><tspan class="s" dy="5">коор</tspan><tspan dy="-5"> = 1 м;</tspan></text>
<text class="t" x="2989.5" y="2113">Δ<tspan class="s" dy="5">с</tspan><tspan dy="-5"> = 0,05 м/с;  Δ</tspan><tspan class="s" dy="5">ШВ</tspan><tspan dy="-5"> = (2 нс÷30 с)</tspan></text></g>
<g id="n-t10"><rect class="bx" x="3176" y="1958" width="198" height="164"/>
<text class="t" x="3275" y="1981">НАП ГНСС</text>
<text class="t" x="3275" y="2027">Δ<tspan class="s" dy="5">коор</tspan><tspan dy="-5"> = 1 м;</tspan></text>
<text class="t" x="3275" y="2049">Δ<tspan class="s" dy="5">с</tspan><tspan dy="-5"> = 0,05 м/с;</tspan></text>
<text class="t" x="3275" y="2072">Δ<tspan class="s" dy="5">ШВ</tspan><tspan dy="-5"> = (2 нс÷30 с)</tspan></text></g>
<g id="footnote">
<text class="f" x="10" y="2148" textLength="3370" lengthAdjust="spacingAndGlyphs">S<tspan class="fs" dy="4">L</tspan><tspan dy="-4"> — СКО измерения длины; θ</tspan><tspan class="fs" dy="4">L</tspan><tspan dy="-4"> — неисключенная систематическая погрешность (НСП) измерения длины; L — измеряемая длина в мм; L</tspan><tspan class="fs" dx="2" dy="4">пр</tspan><tspan dy="-4"> — длина вектора приращения координат в м; θ</tspan><tspan class="fs" dy="4">хран</tspan><tspan dy="-4"> — НСП хранения абсолютных координат; θ</tspan><tspan class="fs" dy="4">пр</tspan><tspan dy="-4"> — НСП приращения координат; S</tspan><tspan class="fs" dy="4">пр</tspan><tspan dy="-4"> — СКО погрешности приращения координат; θ</tspan><tspan class="fs" dy="4">вк</tspan><tspan dy="-4"> — НСП воспроизведения координат потребителя ГНСС; S</tspan><tspan class="fs" dy="4">вк</tspan><tspan dy="-4"> —</tspan></text>
<text class="f" x="10" y="2172" textLength="3370" lengthAdjust="spacingAndGlyphs">СКО погрешности воспроизведения координат потребителя ГНСС; θ<tspan class="fs" dy="4">д</tspan><tspan dy="-4"> — НСП воспроизведения/измерения беззапросной дальности по фазе дальномерного кода; S</tspan><tspan class="fs" dy="4">д</tspan><tspan dy="-4"> — СКО погрешности воспроизведения/измерения беззапросной дальности по фазе дальномерного кода; S</tspan><tspan class="fs" dy="4">ф</tspan><tspan dy="-4"> — СКО погрешности воспроизведения/измерения беззапросной дальности по фазе несущей частоты; θ</tspan><tspan class="fs" dy="4">с</tspan><tspan dy="-4"> —</tspan></text>
<text class="f" x="10" y="2196" textLength="3370" lengthAdjust="spacingAndGlyphs">НСП формирования скорости потребителя ГНСС; S<tspan class="fs" dy="4">с</tspan><tspan dy="-4"> — СКО погрешности формирования скорости потребителя ГНСС; S</tspan><tspan class="fs" dy="4">сд</tspan><tspan dy="-4"> — СКО погрешности воспроизведения/измерения скорости изменения беззапросной дальности; θ</tspan><tspan class="fs" dy="4">сд</tspan><tspan dy="-4"> — НСП воспроизведения/измерения скорости изменения беззапросной дальности; S</tspan><tspan class="fs" dy="4">с</tspan><tspan dy="-4"> — СКО погрешности воспроизведения/измерения скорости изменения</tspan></text>
<text class="f" x="10" y="2220" textLength="3370" lengthAdjust="spacingAndGlyphs">беззапросной дальности; θ<tspan class="fs" dy="4">аз</tspan><tspan dy="-4"> — НСП измерения астрономического азимута; S</tspan><tspan class="fs" dy="4">аз</tspan><tspan dy="-4"> — СКО погрешности измерения астрономического азимута; Δ</tspan><tspan class="fs" dy="4">L</tspan><tspan dy="-4"> — предел допускаемой абсолютной погрешности измерения длины; Δ</tspan><tspan class="fs" dy="4">аз</tspan><tspan dy="-4"> — предел допускаемой абсолютной погрешности измерения азимута; Δ</tspan><tspan class="fs" dy="4">хран</tspan><tspan dy="-4"> — предел допускаемой абсолютной погрешности хранения абсолютных координат; Δ</tspan><tspan class="fs" dy="4">вк</tspan><tspan dy="-4"> —</tspan></text>
<text class="f" x="10" y="2244" textLength="3370" lengthAdjust="spacingAndGlyphs">предел допускаемой абсолютной погрешности воспроизведения координат потребителя ГНСС; Δ<tspan class="fs" dy="4">пр</tspan><tspan dy="-4"> — предел допускаемой абсолютной погрешности измерений приращения координат; Δ</tspan><tspan class="fs" dy="4">д</tspan><tspan dy="-4"> — предел допускаемой абсолютной погрешности воспроизведения/измерений беззапросной дальности по фазе дальномерного кода; Δ</tspan><tspan class="fs" dy="4">ф</tspan><tspan dy="-4"> — предел допускаемой абсолютной погрешности</tspan></text>
<text class="f" x="10" y="2268" textLength="3370" lengthAdjust="spacingAndGlyphs">воспроизведения/измерения беззапросной дальности по фазе несущей частоты; Δ<tspan class="fs" dy="4">сд</tspan><tspan dy="-4"> — предел допускаемой абсолютной погрешности воспроизведения/измерений скорости изменения беззапросной дальности; Δ</tspan><tspan class="fs" dy="4">с</tspan><tspan dy="-4"> — предел допускаемой абсолютной погрешности формирования скорости потребителя ГНСС; Δ</tspan><tspan class="fs" dy="4">коор</tspan><tspan dy="-4"> — предел допускаемой абсолютной погрешности формирования</tspan></text>
<text class="f" x="10" y="2292" textLength="3370" lengthAdjust="spacingAndGlyphs">координат потребителя ГНСС; Δ<tspan class="fs" dy="4">угл</tspan><tspan dy="-4"> — предел допускаемой абсолютной погрешности измерения углов пространственной ориентации; Δ</tspan><tspan class="fs" dy="4">ШВ</tspan><tspan dy="-4"> — предел допускаемой абсолютной погрешности синхронизации формируемой шкалы времени с системной/национальной шкалой времени; Δ</tspan><tspan class="fs" dy="4">φ</tspan><tspan dy="-4"> — предел допускаемой абсолютной погрешности формирования разности фаз несущих частот</tspan></text>
<text class="f" x="10" y="2316" textLength="3352" lengthAdjust="spacingAndGlyphs" style="font-size:18px">между двумя выходами; D — длина антенной базы в м; Δ<tspan class="fs" dy="4">звк</tspan><tspan dy="-4"> — предел допускаемой абсолютной погрешности формирования координат потребителя ГНСС, вносимой при записи-воспроизведении навигационного сигнала; Δ</tspan><tspan class="fs" dy="4">звс</tspan><tspan dy="-4"> — предел допускаемой абсолютной погрешности формирования скорости потребителя ГНСС, вносимой при записи-воспроизведении навигационного сигнала.</tspan></text>
</g>
</svg>
